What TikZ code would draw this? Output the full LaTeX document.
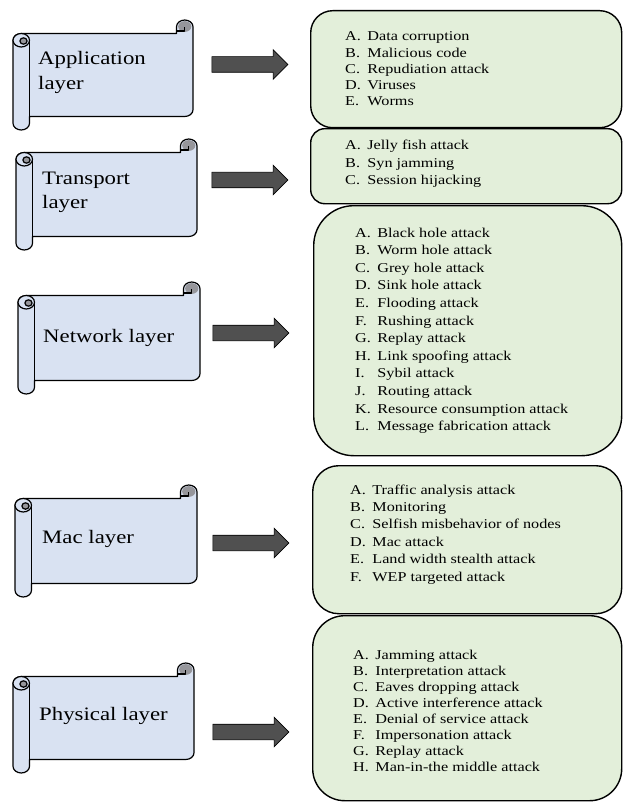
\documentclass[tikz,border=0pt]{standalone}
\usepackage{fontspec}
\setmainfont{Liberation Serif}
\usepackage{graphicx}
\usetikzlibrary{shapes.arrows}
\definecolor{scrollblue}{RGB}{217,226,242}
\definecolor{boxgreen}{RGB}{227,239,218}
\definecolor{arrowgray}{RGB}{80,80,80}
\definecolor{curlgray}{RGB}{150,150,155}
\newcommand\hs[1]{\scalebox{1.2}[1]{#1}}
\newcommand\itm[2]{\makebox[18.5pt][l]{#1}#2}
\tikzset{
  scrollline/.style={draw=black, line width=1.2pt, line join=round},
  lbox/.style={draw=black, line width=1.4pt, fill=boxgreen, anchor=north west, inner sep=0pt},
  blockarrow/.style={single arrow, draw=black, line width=0.6pt, fill=arrowgray,
    inner xsep=0pt, inner ysep=7.5pt, minimum height=76pt, minimum width=0pt,
    single arrow head extend=7pt, single arrow head indent=0pt},
  layertext/.style={anchor=base west, inner sep=0pt},
  listtext/.style={anchor=base west, inner sep=0pt}
}
\newcommand\drawscroll[4]{%
  \def\sL{#1}\def\sT{#2}\def\sR{#3}\def\sB{#4}%
  \draw[scrollline, fill=scrollblue] (\sL,\sT+20.25)
    arc[start angle=180,end angle=270,x radius=8.25,y radius=6.75]
    -- (\sR-16.5,\sT+13.5) -- (\sR-16.5,\sT+6.75)
    arc[start angle=180,end angle=360,x radius=8.25,y radius=6.75]
    -- (\sR,\sB-20.25)
    arc[start angle=0,end angle=90,x radius=8.25,y radius=6.75]
    -- (\sL+16.5,\sB-13.5) -- (\sL+16.5,\sB-6.75)
    arc[start angle=0,end angle=180,x radius=8.25,y radius=6.75]
    -- cycle;
  % right curl
  \fill[curlgray] (\sR-8.25,\sT+6.5) ellipse[x radius=6.6, y radius=5.4];
  \draw[scrollline] (\sR-16.5,\sT+11) -- (\sR-8.25,\sT+11) -- (\sR-8.25,\sT+6.75);
  % left roll
  \draw[scrollline, fill=scrollblue] (\sL+8.25,\sT+20.25) ellipse[x radius=8.25, y radius=6.75];
  \draw[scrollline, fill=curlgray] (\sL+10.5,\sT+21) ellipse[x radius=3.6, y radius=3.2];
  \draw[scrollline] (\sL+16.5,\sT+20.25) -- (\sL+16.5,\sB-13.5);
}
\begin{document}
\begin{tikzpicture}[x=1pt,y=-1pt]
\useasboundingbox (0,0) rectangle (623,805);

% scrolls
\drawscroll{13}{20}{193}{130}
\drawscroll{16}{139}{197}{250}
\drawscroll{18}{282}{200}{394}
\drawscroll{15}{485}{197}{597}
\drawscroll{13}{663}{194}{773}

\node[layertext] (s1) at (38,65) {\hs{\fontsize{19}{24.5}\selectfont\begin{tabular}[t]{@{}l@{}}Application\\layer\end{tabular}}};
\node[layertext] (s2) at (42,185) {\hs{\fontsize{19}{23.5}\selectfont\begin{tabular}[t]{@{}l@{}}Transport\\layer\end{tabular}}};
\node[layertext] (s3) at (43,342) {\hs{\fontsize{19}{23}\selectfont Network layer}};
\node[layertext] (s4) at (42,543) {\hs{\fontsize{19}{23}\selectfont Mac layer}};
\node[layertext] (s5) at (39,720) {\hs{\fontsize{19}{23}\selectfont Physical layer}};

% arrows
\node[blockarrow] (a1) at (246,64.5) {};
\node[blockarrow] (a2) at (246,180) {};
\node[blockarrow] (a3) at (247,333) {};
\node[blockarrow] (a4) at (247,543) {};
\node[blockarrow] (a5) at (247,732) {};

% boxes
\node[lbox, minimum width=311pt, minimum height=117pt, rounded corners=22pt] (b1) at (310,10) {};
\node[lbox, minimum width=311pt, minimum height=75pt, rounded corners=14pt] (b2) at (310,128) {};
\node[lbox, minimum width=308pt, minimum height=250pt, rounded corners=40pt] (b3) at (313,205) {};
\node[lbox, minimum width=309pt, minimum height=148pt, rounded corners=26pt] (b4) at (312,465) {};
\node[lbox, minimum width=309pt, minimum height=185pt, rounded corners=32pt] (b5) at (312,615) {};

\node[listtext] (t1) at (345,41) {\hs{\fontsize{13.5}{16.2}\selectfont\begin{tabular}[t]{@{}l@{}}
\itm{A.}{Data corruption}\\
\itm{B.}{Malicious code}\\
\itm{C.}{Repudiation attack}\\
\itm{D.}{Viruses}\\
\itm{E.}{Worms}
\end{tabular}}};

\node[listtext] (t2) at (345,150) {\hs{\fontsize{13.5}{17.5}\selectfont\begin{tabular}[t]{@{}l@{}}
\itm{A.}{Jelly fish attack}\\
\itm{B.}{Syn jamming}\\
\itm{C.}{Session hijacking}
\end{tabular}}};

\node[listtext] (t3) at (355,237) {\hs{\fontsize{13.5}{17.6}\selectfont\begin{tabular}[t]{@{}l@{}}
\itm{A.}{Black hole attack}\\
\itm{B.}{Worm hole attack}\\
\itm{C.}{Grey hole attack}\\
\itm{D.}{Sink hole attack}\\
\itm{E.}{Flooding attack}\\
\itm{F.}{Rushing attack}\\
\itm{G.}{Replay attack}\\
\itm{H.}{Link spoofing attack}\\
\itm{I.}{Sybil attack}\\
\itm{J.}{Routing attack}\\
\itm{K.}{Resource consumption attack}\\
\itm{L.}{Message fabrication attack}
\end{tabular}}};

\node[listtext] (t4) at (350,494) {\hs{\fontsize{13.5}{17.4}\selectfont\begin{tabular}[t]{@{}l@{}}
\itm{A.}{Traffic analysis attack}\\
\itm{B.}{Monitoring}\\
\itm{C.}{Selfish misbehavior of nodes}\\
\itm{D.}{Mac attack}\\
\itm{E.}{Land width stealth attack}\\
\itm{F.}{WEP targeted attack}
\end{tabular}}};

\node[listtext] (t5) at (353,659) {\hs{\fontsize{13.5}{16}\selectfont\begin{tabular}[t]{@{}l@{}}
\itm{A.}{Jamming attack}\\
\itm{B.}{Interpretation attack}\\
\itm{C.}{Eaves dropping attack}\\
\itm{D.}{Active interference attack}\\
\itm{E.}{Denial of service attack}\\
\itm{F.}{Impersonation attack}\\
\itm{G.}{Replay attack}\\
\itm{H.}{Man-in-the middle attack}
\end{tabular}}};
\end{tikzpicture}
\end{document}
